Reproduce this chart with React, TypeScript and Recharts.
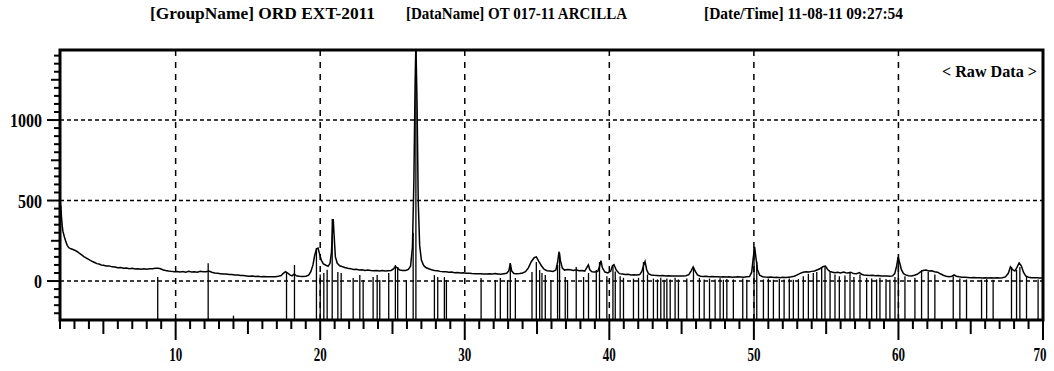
import React from 'react';
import { ComposedChart, Line, XAxis, YAxis, ReferenceLine, ReferenceArea } from 'recharts';

const titleParts = ['[GroupName] ORD EXT-2011', '[DataName] OT 017-11 ARCILLA', '[Date/Time] 11-08-11 09:27:54'];
const legendText = '< Raw Data >';
const xLabelTicks = [10, 20, 30, 40, 50, 60, 70];
const yLabelTicks = [0, 500, 1000];
const gridX = [10, 20, 30, 40, 50, 60];
const gridY = [0, 500, 1000];
const X_DOMAIN: [number, number] = [2, 70];
const Y_DOMAIN: [number, number] = [-242, 1435];

// [2-theta, counts] raw diffraction trace
const rawPattern: [number, number][] = [
  [2.05, 470], [2.1, 400], [2.15, 345], [2.2, 310], [2.3, 275], [2.4, 245], [2.5, 222], [2.6, 208], [2.75, 200], [2.9, 196],
  [3.05, 190], [3.2, 182], [3.35, 172], [3.5, 162], [3.65, 152], [3.8, 144], [3.95, 136], [4.1, 128], [4.25, 121], [4.4, 115],
  [4.55, 108], [4.7, 106], [4.85, 100], [5.0, 98], [5.2, 93], [5.4, 94], [5.6, 88], [5.8, 87], [6.0, 82], [6.2, 84],
  [6.4, 79], [6.6, 81], [6.8, 77], [7.0, 79], [7.2, 75], [7.4, 77], [7.6, 74], [7.8, 76], [8.0, 74], [8.2, 76],
  [8.4, 77], [8.6, 79], [8.8, 80], [8.95, 76], [9.1, 70], [9.3, 65], [9.5, 62], [9.7, 60], [9.9, 57], [10.1, 59],
  [10.3, 56], [10.5, 59], [10.7, 55], [10.9, 60], [11.1, 56], [11.3, 58], [11.5, 55], [11.7, 60], [11.9, 57], [12.1, 58],
  [12.3, 62], [12.5, 55], [12.7, 50], [12.9, 48], [13.1, 46], [13.3, 44], [13.5, 43], [13.7, 40], [13.9, 41], [14.1, 37],
  [14.3, 38], [14.5, 35], [14.7, 34], [14.9, 32], [15.1, 30], [15.3, 31], [15.5, 28], [15.7, 29], [15.9, 27], [16.1, 28],
  [16.3, 26], [16.5, 27], [16.7, 26], [16.9, 27], [17.1, 29], [17.3, 34], [17.45, 48], [17.6, 58], [17.75, 50], [17.9, 38],
  [18.05, 32], [18.2, 44], [18.35, 33], [18.55, 30], [18.8, 28], [19.0, 30], [19.2, 36], [19.35, 58], [19.5, 100], [19.62, 160],
  [19.75, 200], [19.85, 205], [19.95, 170], [20.08, 128], [20.22, 106], [20.4, 98], [20.55, 92], [20.68, 110], [20.78, 180], [20.85, 320],
  [20.9, 385], [20.97, 270], [21.05, 150], [21.18, 110], [21.35, 95], [21.5, 90], [21.7, 84], [21.9, 80], [22.1, 77], [22.3, 72],
  [22.5, 73], [22.7, 68], [22.9, 70], [23.1, 66], [23.3, 68], [23.5, 65], [23.7, 64], [23.9, 66], [24.1, 63], [24.3, 65],
  [24.5, 62], [24.7, 64], [24.9, 66], [25.05, 74], [25.2, 90], [25.35, 80], [25.5, 68], [25.7, 65], [25.9, 66], [26.1, 72],
  [26.25, 92], [26.38, 210], [26.48, 620], [26.56, 1200], [26.62, 1480], [26.7, 1100], [26.78, 500], [26.88, 220], [27.0, 130], [27.15, 98],
  [27.3, 84], [27.5, 76], [27.7, 70], [27.9, 66], [28.1, 64], [28.3, 60], [28.5, 58], [28.7, 57], [28.9, 54], [29.1, 56],
  [29.3, 52], [29.5, 53], [29.7, 50], [29.9, 51], [30.1, 48], [30.3, 49], [30.5, 47], [30.7, 46], [30.9, 45], [31.1, 46],
  [31.3, 44], [31.5, 43], [31.7, 45], [31.9, 43], [32.1, 46], [32.3, 44], [32.5, 42], [32.7, 45], [32.9, 48], [33.05, 64],
  [33.15, 110], [33.25, 62], [33.4, 47], [33.6, 45], [33.8, 47], [34.0, 50], [34.2, 58], [34.4, 82], [34.6, 120], [34.8, 145],
  [34.95, 150], [35.1, 125], [35.3, 95], [35.5, 72], [35.7, 64], [35.9, 62], [36.1, 60], [36.3, 68], [36.42, 115], [36.52, 182],
  [36.62, 125], [36.75, 80], [36.9, 68], [37.1, 72], [37.3, 70], [37.5, 66], [37.7, 70], [37.9, 64], [38.1, 66], [38.3, 62],
  [38.45, 85], [38.55, 100], [38.65, 70], [38.8, 58], [39.0, 56], [39.2, 60], [39.32, 88], [39.42, 126], [39.52, 82], [39.7, 56],
  [39.9, 50], [40.1, 62], [40.22, 95], [40.32, 102], [40.48, 68], [40.7, 46], [40.9, 43], [41.1, 40], [41.3, 42], [41.5, 38],
  [41.7, 39], [41.9, 37], [42.1, 40], [42.25, 60], [42.38, 100], [42.47, 122], [42.58, 72], [42.7, 46], [42.9, 38], [43.1, 36],
  [43.3, 35], [43.5, 33], [43.7, 35], [43.9, 32], [44.1, 33], [44.3, 31], [44.5, 32], [44.7, 31], [44.9, 32], [45.1, 31],
  [45.3, 33], [45.5, 40], [45.65, 62], [45.8, 88], [45.95, 60], [46.1, 38], [46.3, 30], [46.5, 28], [46.7, 29], [46.9, 27],
  [47.1, 28], [47.3, 26], [47.5, 27], [47.7, 25], [47.9, 26], [48.1, 25], [48.3, 26], [48.5, 24], [48.7, 25], [48.9, 26],
  [49.1, 25], [49.3, 24], [49.5, 26], [49.7, 28], [49.85, 55], [49.95, 140], [50.05, 212], [50.15, 140], [50.25, 70], [50.4, 36],
  [50.6, 27], [50.8, 25], [51.0, 24], [51.2, 25], [51.4, 22], [51.6, 23], [51.8, 21], [52.0, 23], [52.2, 22], [52.4, 24],
  [52.6, 26], [52.8, 30], [53.0, 38], [53.2, 48], [53.4, 55], [53.6, 58], [53.8, 56], [54.0, 60], [54.2, 62], [54.4, 70],
  [54.6, 78], [54.8, 90], [54.95, 93], [55.1, 72], [55.25, 60], [55.4, 56], [55.6, 52], [55.8, 54], [56.0, 50], [56.2, 56],
  [56.35, 52], [56.5, 50], [56.7, 55], [56.9, 46], [57.1, 45], [57.3, 52], [57.45, 42], [57.6, 38], [57.8, 36], [58.0, 34],
  [58.2, 36], [58.4, 33], [58.6, 34], [58.8, 32], [59.0, 31], [59.2, 32], [59.4, 30], [59.6, 32], [59.75, 48], [59.88, 95],
  [59.98, 150], [60.08, 115], [60.2, 72], [60.35, 46], [60.5, 38], [60.7, 33], [60.9, 32], [61.1, 36], [61.3, 42], [61.5, 55],
  [61.7, 66], [61.9, 68], [62.1, 62], [62.3, 64], [62.5, 58], [62.7, 55], [62.9, 45], [63.1, 36], [63.3, 30], [63.5, 27],
  [63.7, 30], [63.85, 38], [64.0, 30], [64.2, 26], [64.4, 24], [64.6, 23], [64.8, 22], [65.0, 21], [65.2, 22], [65.4, 20],
  [65.6, 21], [65.8, 19], [66.0, 20], [66.2, 19], [66.4, 20], [66.6, 19], [66.8, 20], [67.0, 19], [67.2, 21], [67.4, 26],
  [67.6, 48], [67.75, 88], [67.9, 70], [68.05, 62], [68.2, 85], [68.35, 112], [68.5, 95], [68.65, 55], [68.8, 32], [69.0, 24],
  [69.2, 21], [69.4, 20], [69.6, 20], [69.8, 19], [70.0, 19],
];

// [2-theta, top of stick] reference pattern lines, rising from the bottom of the plot
const sticks: [number, number][] = [
  [8.76, 25], [12.25, 110], [14.0, -215], [17.67, 56], [18.22, 100], [19.74, 205], [20.0, 40], [20.25, 50], [20.48, 70], [20.83, 385],
  [21.22, 56], [21.45, 50], [22.28, 19], [22.74, 37], [22.97, 6], [23.66, 25], [23.94, 37], [24.12, 6], [24.74, 50], [25.2, 100],
  [25.36, 87], [25.96, 6], [26.43, 300], [26.62, 1435], [27.9, 37], [28.13, 25], [28.59, 25], [28.73, 6], [31.13, 19], [32.11, 6],
  [32.46, 19], [32.96, 6], [33.15, 112], [33.5, 19], [34.65, 56], [34.95, 118], [35.18, 68], [35.34, 50], [35.57, 37], [35.96, 6],
  [36.42, 100], [36.56, 175], [36.95, 25], [37.11, 6], [37.71, 87], [38.22, 25], [38.56, 50], [39.1, 68], [39.32, 118], [39.83, 30],
  [40.25, 100], [40.41, 60], [40.75, 30], [40.98, 20], [41.67, 15], [42.02, 20], [42.36, 118], [42.64, 40], [43.05, 15], [43.33, 10],
  [43.56, 20], [43.79, 8], [43.98, 15], [44.21, 10], [44.55, 20], [44.78, 10], [45.36, 15], [45.82, 87], [46.23, 20], [46.56, 10],
  [46.93, 15], [47.32, 10], [47.66, 18], [47.89, 8], [48.13, 12], [48.58, 10], [49.23, 15], [49.51, 8], [50.01, 205], [50.2, 120],
  [50.66, 10], [51.0, 15], [51.35, 8], [51.76, 12], [52.09, 10], [52.45, 15], [52.73, 8], [53.08, 12], [53.42, 30], [53.77, 45],
  [54.11, 50], [54.35, 56], [54.69, 87], [54.92, 93], [55.27, 56], [55.61, 40], [55.91, 30], [56.3, 35], [56.65, 50], [56.92, 25],
  [57.34, 40], [57.8, 20], [58.15, 15], [58.49, 10], [58.72, 20], [59.14, 12], [59.41, 8], [59.76, 25], [59.99, 143], [60.45, 30],
  [61.14, 20], [61.6, 68], [62.06, 56], [62.52, 40], [63.79, 30], [64.25, 15], [64.71, 10], [65.75, 8], [66.1, 12], [66.55, 8],
  [67.82, 87], [68.17, 70], [68.4, 87], [68.86, 25], [69.66, 10],
];

const xTicks = Array.from({ length: 69 }, (_, i) => 2 + i);
const yTicks = Array.from({ length: 33 }, (_, i) => -200 + i * 50);

const chartData = rawPattern.map(([x, y]) => ({ x, y }));
const FONT = "'Liberation Serif', 'DejaVu Serif', serif";

const XTick = (props: any) => {
  const { x, y, payload } = props;
  const v = payload.value;
  const len = v % 10 === 0 ? 20 : v % 5 === 0 ? 14 : 9;
  const labeled = xLabelTicks.includes(v);
  const cx = v === X_DOMAIN[1] ? x - 3 : x;
  return (
    <g>
      <line x1={x} x2={x} y1={y} y2={y + len} stroke="#000" strokeWidth={2} />
      {labeled && (
        <text x={cx} y={y + 41} textAnchor="middle" fontSize={18} fontWeight="bold" fontFamily={FONT} fill="#000"
          textLength={13} lengthAdjust="spacingAndGlyphs">{v}</text>
      )}
    </g>
  );
};

const YTick = (props: any) => {
  const { x, y, payload } = props;
  const v = payload.value;
  const len = v % 500 === 0 ? 13 : v % 250 === 0 ? 9 : 6;
  const labeled = yLabelTicks.includes(v);
  const s = String(v);
  return (
    <g>
      <line x1={x - len} x2={x} y1={y} y2={y} stroke="#000" strokeWidth={2} />
      {labeled && (
        <text x={x - 18} y={y + 7} textAnchor="end" fontSize={19} fontWeight="bold" fontFamily={FONT} fill="#000"
          textLength={8 * s.length} lengthAdjust="spacingAndGlyphs">{s}</text>
      )}
    </g>
  );
};

export default function App() {
  return (
    <div style={{ position: 'absolute', left: 0, top: 0, width: 1054, height: 371, background: '#fff' }}>
      <ComposedChart width={1054} height={371} data={chartData} margin={{ top: 50, right: 11, bottom: 11, left: 0 }}>
        <XAxis dataKey="x" type="number" domain={X_DOMAIN} allowDataOverflow ticks={xTicks} interval={0}
          tick={<XTick />} tickLine={false} tickSize={0} tickMargin={0} axisLine={false} height={40} />
        <YAxis type="number" domain={Y_DOMAIN} allowDataOverflow ticks={yTicks} interval={0}
          tick={<YTick />} tickLine={false} tickSize={0} tickMargin={0} axisLine={false} width={60} />
        {gridX.map((v) => (
          <ReferenceLine key={'gx' + v} x={v} stroke="#000" strokeWidth={1.5} strokeDasharray="6 6" />
        ))}
        {gridY.map((v) => (
          <ReferenceLine key={'gy' + v} y={v} stroke="#000" strokeWidth={1.5} strokeDasharray="4 3" />
        ))}
        {sticks.map(([t, h], i) => (
          <ReferenceLine key={'s' + i} segment={[{ x: t, y: Y_DOMAIN[0] }, { x: t, y: h }]} stroke="#000" strokeWidth={1.3} />
        ))}
        <Line type="linear" dataKey="y" stroke="#000" strokeWidth={1.5} dot={false} isAnimationActive={false} />
        <ReferenceArea x1={X_DOMAIN[0]} x2={X_DOMAIN[1]} y1={Y_DOMAIN[0]} y2={Y_DOMAIN[1]} fill="none" stroke="#000" strokeWidth={3} />
      </ComposedChart>
      <svg width={1054} height={371} style={{ position: 'absolute', left: 0, top: 0, pointerEvents: 'none' }}>
        <text x={150} y={19} fontSize={17} fontWeight="bold" fontFamily={FONT} fill="#000" textLength={225} lengthAdjust="spacingAndGlyphs">{titleParts[0]}</text>
        <text x={406} y={19} fontSize={17} fontWeight="bold" fontFamily={FONT} fill="#000" textLength={221} lengthAdjust="spacingAndGlyphs">{titleParts[1]}</text>
        <text x={704} y={19} fontSize={17} fontWeight="bold" fontFamily={FONT} fill="#000" textLength={199} lengthAdjust="spacingAndGlyphs">{titleParts[2]}</text>
        <text x={942} y={77} fontSize={16} fontWeight="bold" fontFamily={FONT} fill="#000" textLength={95} lengthAdjust="spacingAndGlyphs">{legendText}</text>
      </svg>
    </div>
  );
}
